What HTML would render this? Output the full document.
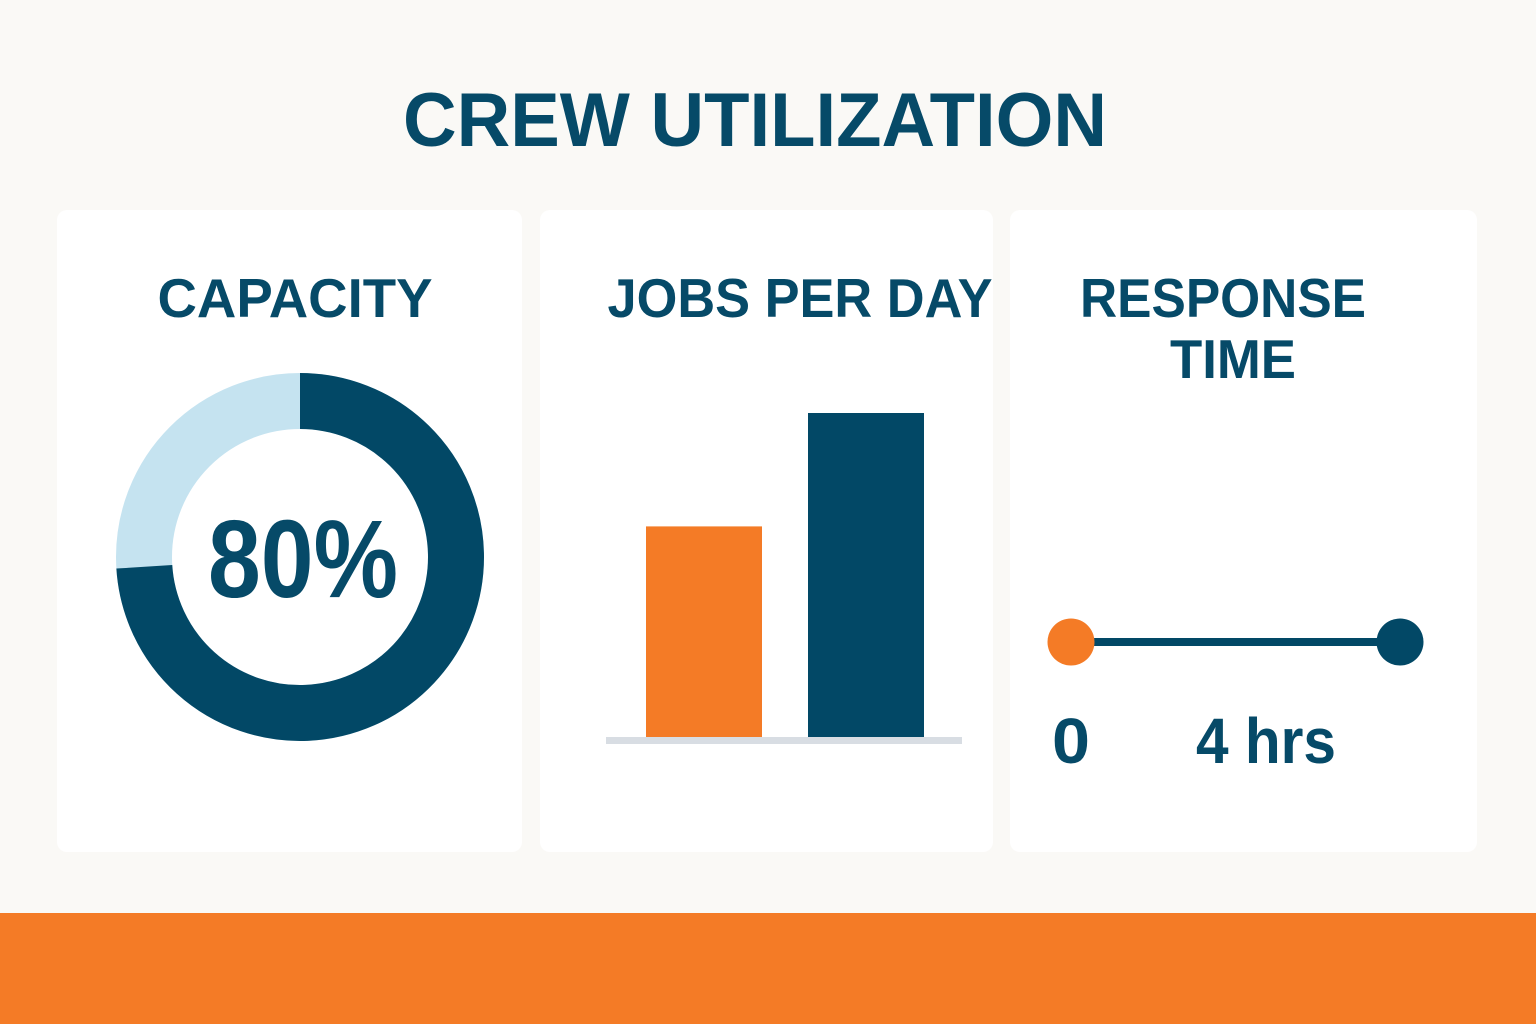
<!DOCTYPE html>
<html><head><meta charset="utf-8"><style>
html,body{margin:0;padding:0;background:#faf9f6;}
svg{display:block;font-family:"Liberation Sans",sans-serif;font-weight:bold;}
</style></head><body>
<svg id="root" width="1536" height="1024" viewBox="0 0 1536 1024">
<rect x="0" y="0" width="1536" height="1024" fill="#faf9f6"/>
<text x="755" y="146" text-anchor="middle" font-size="76" fill="#064a68" textLength="704" lengthAdjust="spacingAndGlyphs">CREW UTILIZATION</text>
<rect x="57" y="210" width="465" height="642" rx="10" fill="#ffffff"/>
<rect x="540" y="210" width="453" height="642" rx="10" fill="#ffffff"/>
<rect x="1010" y="210" width="467" height="642" rx="10" fill="#ffffff"/>
<text x="295" y="317" text-anchor="middle" font-size="55" fill="#064a68" textLength="275" lengthAdjust="spacingAndGlyphs">CAPACITY</text>
<text x="800" y="317" text-anchor="middle" font-size="55" fill="#064a68" textLength="385" lengthAdjust="spacingAndGlyphs">JOBS PER DAY</text>
<text x="1223" y="317" text-anchor="middle" font-size="55" fill="#064a68" textLength="286" lengthAdjust="spacingAndGlyphs">RESPONSE</text>
<text x="1233" y="378" text-anchor="middle" font-size="55" fill="#064a68" textLength="126" lengthAdjust="spacingAndGlyphs">TIME</text>
<g id="donut"></g>
<g id="bars"></g>
<g id="resp"></g>
<rect x="0" y="913" width="1536" height="111" fill="#f47b26"/>
</svg>
<script>
const capacityLabel = ["80%"];
const capacityDrawn = [74];
const jobCategories = ["previous", "current"];
const jobValues = [6.5, 10];
const respValues = [0, 4];
const respLabels = ["0", "4 hrs"];

const NS = "http://www.w3.org/2000/svg";
function mk(tag, attrs, parent){const e=document.createElementNS(NS,tag);for(const k in attrs)e.setAttribute(k,attrs[k]);parent.appendChild(e);return e;}

// Donut
const dg=document.getElementById('donut');
const cx=300,cy=557,rO=184,rI=128,rM=(rO+rI)/2,sw=rO-rI;
let c=mk('circle',{cx:cx,cy:cy,r:rM,fill:'none',stroke:'#c5e3f0','stroke-width':sw},dg);


const frac=capacityDrawn[0]/100, ang=frac*2*Math.PI;
const ex=cx+rM*Math.sin(ang), ey=cy-rM*Math.cos(ang);
let arc=mk('path',{d:`M${cx} ${cy-rM} A${rM} ${rM} 0 ${frac>0.5?1:0} 1 ${ex} ${ey}`,fill:'none',stroke:'#024866','stroke-width':sw},dg);


let t=mk('text',{x:303,y:597,'text-anchor':'middle','font-size':110,fill:'#064a68',textLength:190,lengthAdjust:'spacingAndGlyphs'},dg);
t.textContent=capacityLabel[0];



// Bars
const bg=document.getElementById('bars');
const base=737, maxV=10, topY=413;
const yS=v=>base-(v/maxV)*(base-topY);
const xS=i=>646+i*162;
const cols=['#f47b26','#024866'];
let bl=mk('rect',{x:606,y:737,width:356,height:7,fill:'#d8dde3'},bg);


jobValues.forEach((v,i)=>{
  const r=mk('rect',{x:xS(i),y:yS(v),width:116,height:base-yS(v),fill:cols[i%2]},bg);
  
  
});

// Response
const rg=document.getElementById('resp');
const rx=v=>1071+(v/4)*(1400-1071);
let ln=mk('rect',{x:rx(respValues[0]),y:638,width:rx(respValues[1])-rx(respValues[0]),height:8,fill:'#024866'},rg);


const dc=['#f47b26','#024866'];
const lx=[1071,1266];
const lw=[38,140];
respValues.forEach((v,i)=>{
  const d=mk('circle',{cx:rx(v),cy:642,r:23.5,fill:dc[i]},rg);
  
  
  const tx=mk('text',{x:lx[i],y:763,'text-anchor':'middle','font-size':64,fill:'#064a68',textLength:lw[i],lengthAdjust:'spacingAndGlyphs'},rg);
  tx.textContent=respLabels[i];
  
  
});
</script>
</body></html>
